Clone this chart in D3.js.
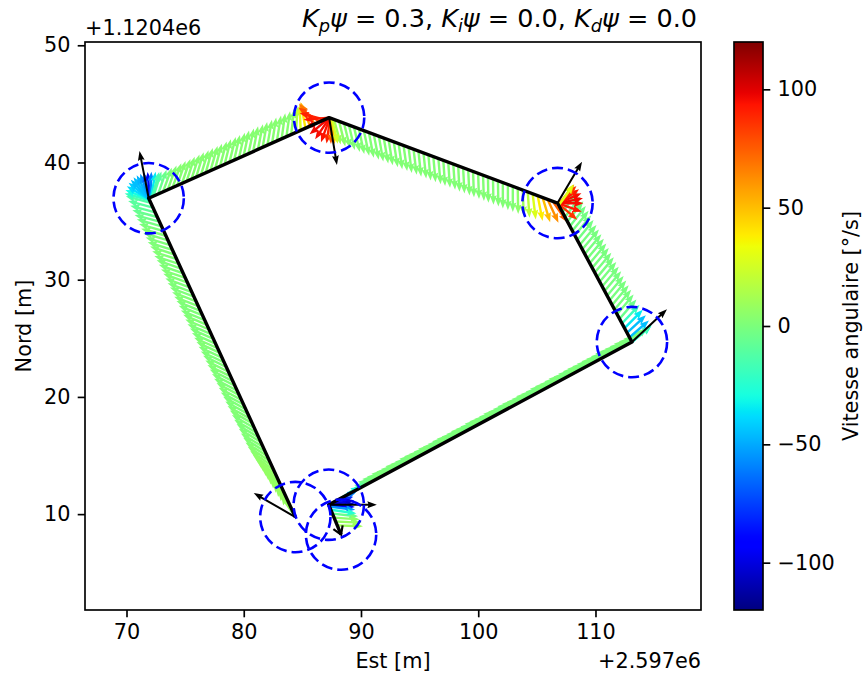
<!DOCTYPE html>
<html>
<head>
<meta charset="utf-8">
<script src="https://cdn.jsdelivr.net/npm/d3@7"></script>
<style>
  body { margin: 0; background: #fff; }
  svg { display: block; }
  text { font-family: "DejaVu Sans", sans-serif; fill: #000; }
</style>
</head>
<body>
<svg id="chart" width="864" height="675"></svg>
<script>
// ---- Waypoints (offsets from +2.597e6 E / +1.1204e6 N, metres) ----
const wpX = [84.40, 71.89, 87.28, 106.76, 113.11, 87.25, 88.30];
const wpY = [9.75, 36.95, 43.83, 36.54, 24.68, 10.80, 8.25];
// desired heading at each waypoint (deg, counter-clockwise from East)
const wpHeading = [150, 101, -80.6, 59.3, 43.2, 0];
const acceptRadius = 3.0;

// ---- Recorded robot samples: position, heading (deg), yaw rate (deg/s) ----
const trajX = [
  84.40,84.22,84.03,83.85,83.66,83.48,83.30,83.11,82.93,82.74,82.56,82.38,82.19,82.01,81.82,81.64,81.46,81.27,81.09,80.90,
  80.72,80.54,80.35,80.17,79.98,79.80,79.62,79.43,79.25,79.06,78.88,78.70,78.51,78.33,78.14,77.96,77.78,77.59,77.41,77.22,
  77.04,76.86,76.67,76.49,76.30,76.12,75.94,75.75,75.57,75.38,75.20,75.02,74.83,74.65,74.46,74.28,74.10,73.91,73.73,73.54,
  73.36,73.18,72.99,72.81,72.62,72.44,72.26,72.07,
  71.97,71.95,71.93,71.91,71.89,71.89,71.90,71.92,71.95,71.99,72.04,72.10,72.18,
  72.30,72.70,73.11,73.51,73.92,74.32,74.73,75.13,75.54,75.94,76.35,76.75,77.16,77.56,77.97,78.37,78.78,79.18,79.59,79.99,
  80.40,80.80,81.21,81.61,82.02,82.42,82.83,83.23,83.64,84.04,84.45,84.85,85.26,85.66,86.07,86.47,86.88,
  87.28,87.29,87.30,87.32,87.34,87.37,87.40,87.45,87.52,
  87.70,88.13,88.55,88.97,89.40,89.82,90.24,90.67,91.09,91.52,91.94,92.36,92.79,93.21,93.63,94.06,94.48,94.90,95.33,95.75,
  96.17,96.60,97.02,97.44,97.87,98.29,98.71,99.14,99.56,99.99,100.41,100.83,101.26,101.68,102.10,102.53,102.95,103.37,103.80,104.22,
  104.64,105.07,105.49,105.91,106.34,
  106.76,106.76,106.77,106.78,106.79,106.80,106.82,106.84,106.87,106.91,
  106.97,107.18,107.40,107.61,107.82,108.03,108.24,108.45,108.67,108.88,109.09,109.30,109.51,109.72,109.94,110.15,110.36,110.57,110.78,110.99,
  111.21,111.42,111.63,111.84,112.05,112.26,112.48,112.69,112.90,
  113.11,113.10,113.06,
  112.71,112.31,111.92,111.52,111.12,110.72,110.33,109.93,109.53,109.13,108.73,108.34,107.94,107.54,107.14,106.75,106.35,105.95,105.55,105.15,
  104.76,104.36,103.96,103.56,103.17,102.77,102.37,101.97,101.57,101.18,100.78,100.38,99.98,99.58,99.19,98.79,98.39,97.99,97.60,97.20,
  96.80,96.40,96.00,95.61,95.21,94.81,94.41,94.02,93.62,93.22,92.82,92.42,92.03,91.63,91.23,90.83,90.44,90.04,89.64,89.24,
  88.84,88.45,88.05,87.65,
  87.25,87.25,87.26,87.28,87.32,
  87.43,87.57,87.70,87.84,87.97
];
const trajY = [
  9.75,10.15,10.55,10.95,11.35,11.75,12.15,12.55,12.95,13.35,13.75,14.15,14.55,14.95,15.35,15.75,16.15,16.55,16.95,17.35,
  17.75,18.15,18.55,18.95,19.35,19.75,20.15,20.55,20.95,21.35,21.75,22.15,22.55,22.95,23.35,23.75,24.15,24.55,24.95,25.35,
  25.75,26.15,26.55,26.95,27.35,27.75,28.15,28.55,28.95,29.35,29.75,30.15,30.55,30.95,31.35,31.75,32.15,32.55,32.95,33.35,
  33.75,34.15,34.55,34.95,35.35,35.75,36.15,36.55,
  36.78,36.83,36.87,36.91,36.95,36.95,36.96,36.97,36.98,37.00,37.02,37.05,37.08,
  37.13,37.31,37.49,37.67,37.86,38.04,38.22,38.40,38.58,38.76,38.94,39.12,39.30,39.48,39.67,39.85,40.03,40.21,40.39,40.57,
  40.75,40.93,41.11,41.29,41.48,41.66,41.84,42.02,42.20,42.38,42.56,42.74,42.92,43.10,43.29,43.47,43.65,
  43.83,43.83,43.82,43.81,43.80,43.79,43.78,43.76,43.74,
  43.67,43.51,43.35,43.20,43.04,42.88,42.72,42.56,42.40,42.25,42.09,41.93,41.77,41.61,41.45,41.29,41.14,40.98,40.82,40.66,
  40.50,40.34,40.18,40.03,39.87,39.71,39.55,39.39,39.23,39.08,38.92,38.76,38.60,38.44,38.28,38.12,37.97,37.81,37.65,37.49,
  37.33,37.17,37.01,36.86,36.70,
  36.54,36.54,36.52,36.50,36.48,36.46,36.43,36.39,36.34,36.27,
  36.14,35.75,35.35,34.96,34.56,34.17,33.77,33.38,32.98,32.59,32.19,31.80,31.40,31.01,30.61,30.22,29.82,29.42,29.03,28.63,
  28.24,27.84,27.45,27.05,26.66,26.26,25.87,25.47,25.08,
  24.68,24.67,24.66,
  24.47,24.25,24.04,23.83,23.61,23.40,23.19,22.97,22.76,22.55,22.33,22.12,21.90,21.69,21.48,21.26,21.05,20.84,20.62,20.41,
  20.20,19.98,19.77,19.56,19.34,19.13,18.92,18.70,18.49,18.28,18.06,17.85,17.63,17.42,17.21,16.99,16.78,16.57,16.35,16.14,
  15.93,15.71,15.50,15.29,15.07,14.86,14.65,14.43,14.22,14.01,13.79,13.58,13.36,13.15,12.94,12.72,12.51,12.30,12.08,11.87,
  11.66,11.44,11.23,11.02,
  10.80,10.80,10.78,10.73,10.64,
  10.37,10.04,9.70,9.37,9.04
];
const trajHeading = [
  124,126,128,130,132,134,136,138,140,142,144,146,147,148,148,149,149,149,150,150,
  150,151,151,151,152,152,152,153,153,153,154,154,154,155,155,155,156,156,156,157,
  157,157,158,158,158,159,159,159,160,160,160,161,161,161,162,162,162,163,163,163,
  164,164,164,165,165,165,165,165,
  165,158,150,142,134,126,118,110,102,95,88,80,74,
  72,71,70,70,70,71,71,72,72,73,73,74,74,75,75,76,76,77,77,78,
  78,79,79,80,80,81,81,82,82,83,86,92,100,112,128,146,165,
  185,203,220,236,250,262,271,278,283,
  -75,-76,-76,-77,-77,-78,-78,-79,-79,-80,-80,-81,-81,-82,-82,-83,-83,-84,-84,-85,
  -85,-85,-86,-86,-86,-87,-87,-87,-88,-88,-88,-89,-89,-89,-90,-90,-90,-89,-88,-86,
  -83,-79,-73,-65,-55,
  -40,-20,0,12,24,35,45,52,55,56,
  55,54,53,52,52,51,51,51,50,50,50,50,50,50,50,50,50,50,50,50,
  50,50,50,50,49,47,45,43,41,
  41,40,40,
  40,41,41,40,40,41,40,40,41,41,40,40,41,40,40,41,41,40,40,41,
  40,40,41,41,40,40,41,40,40,41,41,40,40,41,40,40,41,41,40,40,
  41,40,40,41,41,40,40,41,40,40,41,41,40,40,41,40,40,41,40,40,
  38,35,31,25,
  18,10,3,-3,-7,
  -8,-6,-4,-3,-2
];
const trajOmega = [
  8,8,8,8,8,8,7,7,7,7,6,5,4,3,2,2,2,1,1,1,
  2,2,1,1,1,2,2,1,1,1,2,2,1,1,1,2,2,1,1,1,
  2,2,1,1,1,2,2,1,1,1,2,2,1,1,1,2,2,1,1,1,
  2,0,-2,-4,-6,-8,-10,-12,
  -20,-30,-38,-42,-45,-45,-48,-55,-70,-95,-60,-35,-15,
  -10,-5,0,2,3,3,3,3,3,3,3,3,3,3,3,3,3,3,3,3,
  3,3,3,3,3,3,3,3,3,5,15,28,40,55,68,80,90,
  92,95,96,95,94,90,75,50,25,
  10,5,3,2,2,2,2,2,2,2,2,2,2,2,2,2,2,2,2,2,
  2,2,2,2,2,2,2,2,2,2,2,2,2,2,2,2,2,5,10,18,
  28,38,50,62,75,
  85,92,95,96,95,92,85,60,30,8,
  -5,-5,-4,-3,-3,-2,-2,-2,-1,-1,-1,-1,-1,-1,-1,-1,-1,-1,-1,-1,
  -1,-1,-1,-2,-5,-20,-35,-45,-45,
  -40,-30,-15,
  0,1,0,-1,0,1,0,0,1,0,-1,0,1,0,0,1,0,-1,0,1,
  0,0,1,0,-1,0,1,0,0,1,0,-1,0,1,0,0,1,0,-1,0,
  1,0,0,1,0,-1,0,1,0,0,1,0,-1,0,1,0,0,1,0,-1,
  -3,-10,-30,-60,
  -80,-100,-105,-90,-55,
  -25,-5,5,8,10
];

// ---- Axis ticks ----
const xTicks = [70, 80, 90, 100, 110];
const yTicks = [10, 20, 30, 40, 50];
const cbTicks = [-100, -50, 0, 50, 100];
const omegaRange = [-120, 120];

// ---- Layout ----
const svg = d3.select("#chart");
const plot = { left: 85, right: 701, top: 42, bottom: 610 };
const cb = { left: 734, right: 763, top: 42, bottom: 610 };
const FS = 20.8;            // 10 pt at 150 dpi
const LW = 1.67;            // 0.8 pt
const TICK = 7.3;           // 3.5 pt

const sx = d3.scaleLinear().domain([66.46, 119.0]).range([plot.left, plot.right]);
const sy = d3.scaleLinear().domain([1.82, 50.28]).range([plot.bottom, plot.top]);
const pxPerM = sx(1) - sx(0);

// jet colour map
const jetR = d3.scaleLinear().domain([0, 0.35, 0.66, 0.89, 1]).range([0, 0, 1, 1, 0.5]).clamp(true);
const jetG = d3.scaleLinear().domain([0, 0.125, 0.375, 0.64, 0.91, 1]).range([0, 0, 1, 1, 0, 0]).clamp(true);
const jetB = d3.scaleLinear().domain([0, 0.11, 0.34, 0.65, 1]).range([0.5, 1, 1, 0, 0]).clamp(true);
const jet = t => d3.rgb(255 * jetR(t), 255 * jetG(t), 255 * jetB(t)).formatHex();
const norm = d3.scaleLinear().domain(omegaRange).range([0, 1]).clamp(true);
const omegaColor = v => jet(norm(v));

// arrow outline pointing along +x, quiver style
function arrowShape(len, w, hw, hl, ha) {
  return `M0,${-w/2}L${len-ha},${-w/2}L${len-hl},${-hw/2}L${len},0L${len-hl},${hw/2}L${len-ha},${w/2}L0,${w/2}Z`;
}

const defs = svg.append("defs");
defs.append("clipPath").attr("id", "plotClip")
  .append("rect")
  .attr("x", plot.left).attr("y", plot.top)
  .attr("width", plot.right - plot.left).attr("height", plot.bottom - plot.top);

// ---- Plot content ----
const content = svg.append("g").attr("clip-path", "url(#plotClip)");

// yaw-rate coloured heading arrows; faster turns are drawn last so they stay visible
const samples = trajX.map((x, i) => ({ i, x, y: trajY[i], h: trajHeading[i], w: trajOmega[i] }))
  .sort((a, b) => d3.ascending(Math.abs(a.w) > 12 ? 1 : 0, Math.abs(b.w) > 12 ? 1 : 0) || d3.ascending(a.i, b.i));
const qLen = 2.2 * pxPerM;
const qShape = arrowShape(qLen, 2.4, 7.2, 9.5, 8.5);
content.append("g").selectAll("path")
  .data(samples).join("path")
  .attr("d", qShape)
  .attr("transform", d => `translate(${sx(d.x)},${sy(d.y)}) rotate(${-d.h})`)
  .attr("fill", d => omegaColor(d.w));

// planned route
const waypoints = wpX.map((x, i) => ({ x, y: wpY[i] }));
content.append("path")
  .datum(waypoints)
  .attr("d", d3.line().x(d => sx(d.x)).y(d => sy(d.y)))
  .attr("fill", "none")
  .attr("stroke", "#000")
  .attr("stroke-width", 3.4)
  .attr("stroke-linejoin", "round");

// end-of-route marker in the direction of the last leg
const nW = waypoints.length;
const lastAng = Math.atan2(-(sy(wpY[nW - 1]) - sy(wpY[nW - 2])), sx(wpX[nW - 1]) - sx(wpX[nW - 2])) * 180 / Math.PI;
content.append("path")
  .attr("d", "M-8,-5L0,0L-8,5")
  .attr("fill", "none").attr("stroke", "#000").attr("stroke-width", 2.2)
  .attr("transform", `translate(${sx(wpX[nW - 1])},${sy(wpY[nW - 1])}) rotate(${-lastAng})`);

// desired heading at each waypoint
const hShape = arrowShape(4.1 * pxPerM, 2.0, 6.8, 9.5, 8.5);
content.append("g").selectAll("path")
  .data(wpHeading.map((h, i) => ({ x: wpX[i], y: wpY[i], h })))
  .join("path")
  .attr("d", hShape)
  .attr("transform", d => `translate(${sx(d.x)},${sy(d.y)}) rotate(${-d.h})`)
  .attr("fill", "#000");

// acceptance circles
content.append("g").selectAll("circle")
  .data(waypoints).join("circle")
  .attr("cx", d => sx(d.x)).attr("cy", d => sy(d.y))
  .attr("r", acceptRadius * pxPerM)
  .attr("fill", "none")
  .attr("stroke", "#0000ff")
  .attr("stroke-width", 2.6)
  .attr("stroke-dasharray", "11,5");

// ---- Axes ----
const xAxis = svg.append("g")
  .attr("transform", `translate(0,${plot.bottom})`)
  .call(d3.axisBottom(sx).tickValues(xTicks).tickSize(TICK).tickPadding(TICK).tickFormat(d3.format("d")));
const yAxis = svg.append("g")
  .attr("transform", `translate(${plot.left},0)`)
  .call(d3.axisLeft(sy).tickValues(yTicks).tickSize(TICK).tickPadding(TICK).tickFormat(d3.format("d")));
[xAxis, yAxis].forEach(a => {
  a.select(".domain").remove();
  a.selectAll(".tick line").attr("stroke", "#000").attr("stroke-width", LW);
  a.selectAll(".tick text").attr("font-size", FS).attr("font-family", "DejaVu Sans").attr("fill", "#000");
});

svg.append("rect")
  .attr("x", plot.left).attr("y", plot.top)
  .attr("width", plot.right - plot.left).attr("height", plot.bottom - plot.top)
  .attr("fill", "none").attr("stroke", "#000").attr("stroke-width", LW);

// axis labels and offsets
svg.append("text").attr("x", (plot.left + plot.right) / 2).attr("y", 668)
  .attr("text-anchor", "middle").attr("font-size", FS).text("Est [m]");
svg.append("text").attr("transform", `translate(31,${(plot.top + plot.bottom) / 2}) rotate(-90)`)
  .attr("text-anchor", "middle").attr("font-size", FS).text("Nord [m]");
svg.append("text").attr("x", plot.right).attr("y", 668)
  .attr("text-anchor", "end").attr("font-size", FS).text("+2.597e6");
svg.append("text").attr("x", plot.left).attr("y", 35)
  .attr("text-anchor", "start").attr("font-size", FS).text("+1.1204e6");

// title with math-style gains
const titleParts = [["K", "p", " = 0.3, "], ["K", "i", " = 0.0, "], ["K", "d", " = 0.0"]];
const title = svg.append("text").attr("x", plot.right - 4).attr("y", 27)
  .attr("text-anchor", "end").attr("font-size", 25.5);
titleParts.forEach(([k, sub, rest]) => {
  title.append("tspan").attr("font-style", "italic").text(k);
  title.append("tspan").attr("font-style", "italic").attr("font-size", 17.8).attr("dy", 5).text(sub);
  title.append("tspan").attr("font-style", "italic").attr("dy", -5).text("\u03c8");
  title.append("tspan").text(rest);
});

// ---- Colour bar ----
const grad = defs.append("linearGradient").attr("id", "jetGrad")
  .attr("x1", 0).attr("y1", 1).attr("x2", 0).attr("y2", 0);
d3.range(0, 1.0001, 0.01).forEach(t => {
  grad.append("stop").attr("offset", t).attr("stop-color", jet(t));
});
svg.append("rect")
  .attr("x", cb.left).attr("y", cb.top)
  .attr("width", cb.right - cb.left).attr("height", cb.bottom - cb.top)
  .attr("fill", "url(#jetGrad)")
  .attr("stroke", "#000").attr("stroke-width", LW);

const sc = d3.scaleLinear().domain(omegaRange).range([cb.bottom, cb.top]);
const cAxis = svg.append("g")
  .attr("transform", `translate(${cb.right},0)`)
  .call(d3.axisRight(sc).tickValues(cbTicks).tickSize(TICK).tickPadding(TICK));
cAxis.select(".domain").remove();
cAxis.selectAll(".tick line").attr("stroke", "#000").attr("stroke-width", LW);
cAxis.selectAll(".tick text").attr("font-size", FS).attr("font-family", "DejaVu Sans").attr("fill", "#000");

svg.append("text")
  .attr("transform", `translate(858,${(cb.top + cb.bottom) / 2}) rotate(-90)`)
  .attr("text-anchor", "middle").attr("font-size", FS)
  .text("Vitesse angulaire [\u00b0/s]");
</script>
</body>
</html>
